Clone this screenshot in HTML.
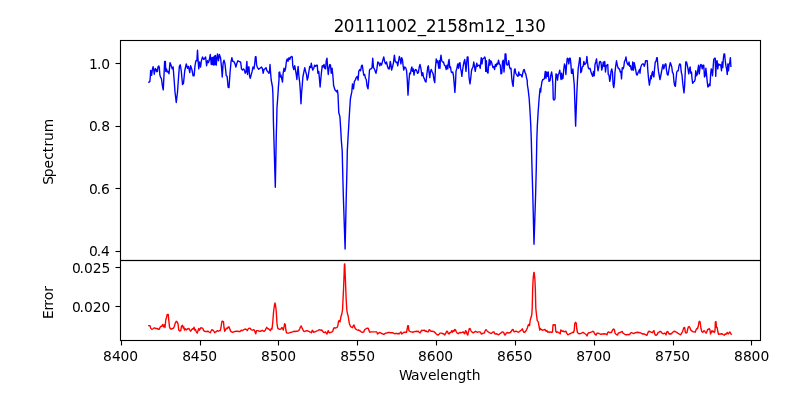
<!DOCTYPE html>
<html lang="en"><head><meta charset="utf-8"><title>20111002_2158m12_130</title>
<style>html,body{margin:0;padding:0;background:#ffffff;}body{width:800px;height:400px;overflow:hidden;position:relative;}</style>
</head><body>
<svg width="800" height="400" viewBox="0 0 800 400" style="display:block;position:absolute;left:0;top:0">
<rect x="0" y="0" width="800" height="400" fill="#ffffff"/>
<defs><clipPath id="c1"><rect x="120" y="40" width="640" height="220"/></clipPath><clipPath id="c2"><rect x="120" y="260" width="640" height="80"/></clipPath></defs>
<g clip-path="url(#c1)"><path d="M148.90 82.20 L149.80 81.70 L150.30 77.00 L150.60 70.50 L151.20 71.00 L151.60 75.30 L152.40 69.50 L153.10 66.60 L153.70 69.50 L154.25 74.20 L154.90 70.00 L155.40 68.50 L155.90 69.50 L156.50 71.50 L157.00 69.50 L157.40 71.50 L158.00 67.00 L158.75 65.90 L159.30 67.50 L159.88 75.00 L160.75 77.75 L161.38 78.25 L162.50 86.50 L163.25 89.88 L164.00 75.00 L164.62 61.38 L165.38 61.38 L165.75 71.38 L166.50 68.88 L167.25 72.00 L168.12 71.38 L169.00 73.88 L170.00 62.62 L171.25 65.75 L172.25 68.88 L173.12 67.00 L174.00 78.25 L175.00 92.00 L176.25 102.50 L177.50 92.00 L178.75 74.50 L179.38 66.38 L180.25 64.75 L181.25 70.75 L182.50 84.50 L183.50 83.25 L184.75 70.75 L186.25 63.88 L187.50 68.25 L188.50 66.38 L189.75 72.62 L190.62 65.75 L191.88 69.50 L193.12 75.75 L194.12 75.75 L195.00 65.75 L195.88 60.75 L196.88 60.75 L197.50 50.12 L198.12 60.75 L198.75 68.88 L199.50 62.00 L200.62 67.00 L201.25 61.38 L202.50 57.00 L203.75 59.50 L204.75 58.25 L205.62 57.00 L206.62 65.75 L207.50 60.75 L208.50 62.62 L209.38 59.50 L210.25 54.50 L211.25 64.50 L211.88 57.75 L212.50 64.50 L213.12 57.12 L213.75 65.12 L214.38 56.25 L215.00 64.50 L215.38 55.38 L215.88 60.75 L216.25 65.12 L216.88 58.25 L217.50 53.88 L218.50 60.75 L219.38 54.50 L220.62 58.25 L221.50 67.00 L222.25 77.00 L223.12 63.25 L224.00 60.12 L225.00 63.88 L226.25 75.75 L227.12 76.38 L228.12 87.25 L229.00 87.62 L230.00 73.25 L231.00 62.00 L231.88 57.62 L232.75 61.38 L233.75 61.38 L235.00 63.88 L235.88 67.00 L236.88 63.25 L237.88 60.75 L239.00 61.38 L240.00 62.00 L240.62 62.00 L241.50 68.88 L242.50 70.12 L243.50 68.88 L244.38 70.12 L245.25 73.25 L246.00 72.00 L246.88 61.38 L247.50 74.50 L248.38 67.00 L249.00 67.00 L249.50 75.75 L250.25 78.25 L251.25 74.50 L252.12 71.38 L253.00 67.00 L254.00 68.88 L254.75 63.25 L255.38 56.75 L256.00 56.75 L256.62 65.12 L257.50 67.62 L258.75 69.25 L260.00 68.25 L261.50 67.00 L262.50 68.88 L263.12 73.25 L264.00 69.50 L265.00 68.88 L266.00 67.62 L266.88 70.75 L267.75 71.38 L268.75 73.25 L269.50 72.62 L270.00 64.50 L270.62 73.25 L271.20 80.00 L272.50 87.00 L272.90 93.75 L273.20 107.50 L273.40 121.00 L273.80 135.00 L275.30 187.30 L276.30 135.00 L276.70 121.00 L277.00 107.50 L278.00 93.75 L278.40 87.00 L279.00 80.00 L279.00 72.62 L279.75 72.00 L280.25 77.00 L281.00 75.12 L281.75 78.88 L282.50 82.00 L283.12 73.25 L284.00 68.25 L284.75 71.38 L285.50 68.88 L286.50 60.75 L287.25 58.88 L288.00 61.38 L289.00 57.62 L289.75 59.50 L290.75 57.00 L291.75 56.38 L292.25 57.00 L292.75 65.75 L293.75 69.50 L294.75 65.75 L295.50 70.12 L296.25 74.50 L296.88 79.50 L297.50 72.00 L298.12 66.38 L298.75 74.50 L299.75 83.25 L300.38 92.00 L301.00 103.75 L301.62 92.00 L302.12 87.00 L302.88 77.00 L303.75 72.62 L304.75 67.62 L305.62 71.38 L306.50 74.50 L307.25 80.12 L308.12 77.00 L309.00 70.75 L309.75 66.38 L310.62 67.62 L311.25 63.25 L312.00 67.00 L312.75 70.12 L313.75 68.25 L314.62 65.12 L315.62 66.38 L316.50 65.12 L317.25 65.12 L317.88 73.25 L318.75 71.38 L319.38 78.25 L320.12 87.00 L320.75 79.50 L321.50 72.00 L322.25 65.75 L323.12 67.00 L324.00 64.50 L324.75 68.25 L325.62 68.88 L326.25 60.75 L327.00 58.25 L327.50 65.75 L328.25 74.50 L329.00 68.25 L329.75 64.50 L330.50 65.12 L331.25 73.25 L332.12 68.25 L332.75 74.50 L333.50 83.25 L333.50 85.00 L334.90 89.80 L336.70 91.90 L337.40 90.20 L338.00 94.60 L338.75 112.50 L339.90 116.60 L340.80 130.40 L341.30 140.00 L342.20 151.00 L342.60 167.50 L343.30 195.00 L345.10 249.00 L346.30 195.00 L347.00 167.50 L347.30 151.00 L347.90 140.00 L348.70 126.25 L349.50 112.50 L350.40 98.75 L351.80 91.90 L352.50 83.88 L353.50 88.88 L354.38 81.38 L355.25 80.12 L356.25 77.62 L357.25 76.38 L358.12 80.12 L358.75 71.38 L359.75 69.50 L360.62 70.75 L361.50 65.75 L362.25 65.12 L363.00 70.12 L363.75 75.12 L364.62 74.50 L365.50 78.25 L366.25 79.50 L367.12 86.38 L368.00 88.88 L368.75 80.75 L369.50 70.12 L370.25 68.88 L371.25 68.88 L372.00 67.62 L372.75 58.25 L373.50 67.62 L374.38 68.88 L375.25 71.38 L376.00 73.25 L376.88 68.88 L377.75 62.00 L378.75 62.62 L379.75 65.75 L380.62 63.25 L381.50 65.12 L382.50 61.38 L383.75 57.00 L384.75 62.00 L385.62 63.88 L386.50 62.00 L387.50 66.38 L388.50 68.88 L389.38 68.88 L390.25 61.38 L391.00 65.12 L391.62 70.12 L392.50 67.00 L393.50 62.62 L394.38 55.12 L395.25 61.38 L396.25 62.62 L397.00 62.00 L397.75 65.75 L398.50 61.38 L399.38 56.38 L400.25 59.50 L400.88 63.88 L401.75 57.62 L402.50 60.12 L403.12 65.75 L403.75 70.12 L404.62 67.00 L405.62 67.62 L406.50 70.12 L407.25 79.50 L408.00 95.12 L408.75 83.25 L409.62 73.25 L410.38 73.88 L411.25 68.88 L411.88 67.00 L412.50 71.38 L413.25 68.88 L414.00 75.12 L414.75 70.75 L415.62 69.50 L416.50 70.12 L417.50 73.25 L418.38 72.62 L419.25 67.00 L420.00 64.50 L421.00 68.88 L421.88 75.75 L422.75 72.62 L423.50 77.00 L424.38 78.88 L425.25 81.38 L426.00 82.00 L426.88 74.50 L427.75 67.00 L428.38 65.75 L429.00 72.00 L429.75 77.62 L430.50 71.38 L431.25 69.50 L432.25 72.00 L433.12 73.88 L434.00 80.12 L434.75 82.62 L435.50 67.00 L436.25 58.88 L437.00 62.62 L437.75 60.75 L438.75 68.25 L439.50 60.75 L440.00 68.25 L440.38 59.50 L441.00 55.12 L441.75 60.75 L442.50 62.00 L443.50 62.00 L444.38 65.12 L445.25 65.75 L446.25 69.50 L447.00 65.12 L447.75 68.88 L448.50 62.00 L449.12 59.50 L449.75 67.62 L450.50 67.00 L451.25 72.00 L452.00 72.62 L452.75 72.00 L453.50 75.75 L454.25 84.50 L454.88 92.38 L455.50 83.25 L456.00 71.38 L456.88 68.25 L457.75 63.88 L458.50 68.25 L459.25 63.25 L460.00 62.62 L460.62 68.88 L461.25 71.38 L461.88 76.38 L462.50 70.75 L463.25 65.75 L464.00 62.00 L464.75 59.50 L465.38 64.50 L466.00 71.38 L466.62 63.25 L467.25 57.00 L468.00 57.00 L468.50 67.00 L469.12 78.25 L470.00 83.88 L470.75 78.25 L471.50 70.75 L472.25 68.25 L473.00 67.00 L473.75 62.00 L474.50 66.38 L475.25 71.38 L476.00 67.00 L476.75 63.25 L477.50 66.38 L478.50 65.12 L479.38 65.12 L480.25 68.25 L480.75 62.62 L481.25 57.62 L482.00 63.88 L482.75 58.88 L483.75 58.25 L484.75 57.00 L485.25 58.25 L485.75 71.38 L486.38 60.75 L487.00 71.38 L488.00 73.25 L488.50 67.00 L489.25 59.50 L490.00 65.12 L490.75 60.75 L491.50 62.00 L492.25 65.12 L493.00 67.62 L493.75 66.38 L494.62 69.50 L495.38 64.50 L496.25 66.38 L497.00 63.25 L497.75 64.50 L498.50 60.12 L499.38 63.88 L500.25 65.12 L501.00 73.88 L501.75 73.25 L502.50 62.00 L503.25 60.12 L504.00 72.00 L504.62 64.50 L505.12 53.88 L505.88 53.88 L506.50 63.88 L507.25 65.12 L508.00 64.50 L508.75 60.75 L509.50 67.00 L510.25 68.88 L511.00 68.25 L511.75 78.25 L512.50 83.88 L513.12 86.38 L513.75 77.00 L514.50 69.50 L515.00 68.88 L515.75 73.25 L516.50 74.50 L517.25 75.75 L518.00 76.38 L518.75 72.00 L519.50 75.12 L520.38 74.50 L521.25 75.12 L522.00 77.00 L522.75 73.25 L523.50 70.12 L524.25 69.50 L525.00 72.62 L525.75 73.88 L526.50 77.62 L527.25 80.75 L527.40 85.00 L528.10 89.10 L529.20 98.75 L530.10 112.50 L530.80 126.25 L531.30 140.00 L532.00 167.50 L532.80 195.00 L534.00 244.30 L535.60 195.00 L536.30 167.50 L536.80 140.00 L537.30 126.25 L538.10 112.50 L539.10 98.75 L539.75 91.90 L540.20 88.40 L540.70 92.00 L541.00 88.25 L541.88 82.00 L542.75 79.50 L543.75 79.50 L544.50 78.25 L545.25 71.38 L546.00 78.25 L546.75 72.00 L547.50 76.38 L548.25 72.00 L549.00 81.38 L550.00 80.75 L550.75 75.75 L551.62 72.00 L552.25 75.75 L552.88 84.50 L553.25 98.88 L554.00 100.12 L555.00 98.88 L555.50 83.25 L556.00 73.88 L556.75 74.50 L557.50 80.12 L558.25 74.50 L559.00 73.25 L559.75 70.12 L560.38 74.50 L561.00 79.50 L561.62 73.25 L562.25 78.88 L563.00 78.25 L563.75 69.50 L564.50 63.88 L565.25 66.38 L565.88 74.50 L566.50 65.75 L567.25 58.25 L568.00 58.88 L568.75 63.88 L569.50 58.25 L570.25 58.25 L570.88 63.88 L571.50 73.25 L572.25 73.25 L572.88 68.88 L573.50 77.00 L574.25 84.50 L574.50 92.00 L575.62 126.12 L576.88 92.00 L577.50 79.50 L578.25 68.25 L579.00 63.25 L579.75 57.62 L580.25 58.25 L580.75 72.62 L581.50 71.38 L582.25 67.00 L583.12 66.38 L583.88 61.38 L584.62 64.50 L585.38 63.88 L586.25 62.62 L586.88 56.38 L587.50 62.62 L588.25 67.62 L589.00 68.88 L590.00 68.25 L591.00 72.00 L591.88 74.50 L592.75 76.38 L593.50 71.38 L594.25 75.75 L595.00 64.50 L595.75 62.00 L596.50 58.88 L597.25 65.75 L598.00 70.75 L598.75 67.00 L599.50 62.00 L600.25 61.38 L601.00 62.62 L601.75 70.12 L602.50 67.00 L603.25 62.00 L604.00 66.38 L604.75 61.38 L605.50 72.00 L606.25 65.75 L607.00 65.12 L607.75 64.50 L608.25 74.50 L609.00 75.12 L609.75 81.38 L610.38 78.25 L611.00 71.38 L611.75 68.88 L612.50 72.62 L613.12 84.50 L613.75 87.62 L614.38 83.25 L615.00 72.00 L615.75 65.75 L616.50 60.75 L617.25 65.12 L618.00 67.62 L618.75 68.88 L619.50 68.88 L620.25 72.00 L620.88 71.38 L621.50 78.88 L622.25 67.62 L623.00 68.88 L623.75 67.00 L624.50 61.38 L625.25 60.12 L626.00 57.00 L626.75 62.00 L627.50 63.88 L628.25 65.12 L629.00 62.00 L629.75 66.38 L630.50 65.75 L631.25 69.50 L632.00 70.12 L632.75 62.00 L633.50 70.12 L634.25 62.62 L635.00 66.38 L635.75 70.12 L636.50 74.50 L637.25 75.12 L638.00 72.62 L638.75 71.38 L639.50 69.50 L640.00 73.25 L640.62 67.62 L641.50 65.12 L642.50 63.88 L643.50 63.88 L644.25 66.38 L645.00 63.88 L645.62 60.75 L646.50 60.75 L647.25 60.75 L647.75 69.50 L648.50 78.25 L649.38 85.12 L650.00 81.38 L650.75 75.75 L651.25 78.88 L652.00 73.25 L652.62 71.38 L653.25 75.75 L653.88 77.00 L654.50 69.50 L655.25 62.00 L656.00 61.38 L656.75 57.62 L657.25 57.62 L657.75 64.50 L658.50 71.38 L659.25 75.75 L660.00 79.50 L660.75 75.75 L661.50 72.00 L662.25 67.62 L663.00 64.50 L663.75 68.88 L664.50 66.38 L665.25 63.88 L665.88 63.88 L666.50 70.12 L667.25 74.50 L668.00 75.12 L668.75 70.75 L669.50 66.38 L670.25 62.62 L671.00 64.50 L671.75 67.00 L672.50 72.62 L673.25 73.25 L674.00 82.00 L674.75 85.75 L675.38 86.38 L676.00 79.50 L676.75 72.00 L677.50 70.75 L678.25 70.75 L679.00 65.75 L679.75 63.88 L680.50 64.50 L681.25 72.00 L682.00 75.12 L682.75 83.25 L683.50 89.50 L684.00 92.88 L684.62 85.75 L685.25 72.00 L685.75 62.00 L686.50 62.00 L687.25 65.12 L688.00 68.88 L688.75 73.88 L689.50 68.88 L690.12 67.00 L690.75 73.25 L691.50 72.00 L692.00 78.25 L692.62 83.25 L693.50 82.00 L694.38 81.38 L695.12 79.50 L695.75 70.75 L696.50 75.75 L697.25 74.50 L698.00 68.88 L698.62 65.12 L699.25 73.88 L700.00 67.62 L700.75 64.50 L701.50 65.12 L702.25 68.88 L703.00 65.12 L703.75 65.12 L704.50 77.00 L705.25 75.75 L705.88 68.25 L706.62 75.12 L707.25 82.00 L707.88 87.00 L708.50 86.38 L709.25 83.88 L710.00 85.75 L710.62 74.50 L711.25 68.88 L711.88 70.12 L712.50 75.75 L713.12 67.62 L713.75 59.50 L714.50 58.25 L715.25 58.25 L715.75 76.38 L716.38 61.38 L717.12 60.75 L717.75 68.88 L718.50 63.88 L719.25 65.12 L720.00 64.50 L720.75 65.12 L721.50 70.75 L722.12 62.00 L722.75 67.62 L723.38 58.25 L724.00 53.88 L724.62 53.88 L725.25 60.75 L726.00 66.38 L726.62 68.88 L727.25 74.50 L727.88 63.88 L728.50 70.75 L729.12 64.50 L729.75 62.62 L730.38 57.62 L730.88 66.38" fill="none" stroke="#0000ff" stroke-width="1.389" stroke-linejoin="round" stroke-linecap="square"/></g>
<g clip-path="url(#c2)"><path d="M148.75 325.62 L150.00 325.62 L150.62 328.12 L151.88 329.38 L153.12 328.75 L154.38 327.75 L155.62 328.50 L156.88 328.50 L158.12 329.00 L159.12 329.38 L160.00 327.50 L161.00 326.25 L161.88 326.25 L162.75 324.38 L163.50 326.88 L164.25 325.00 L165.00 327.50 L165.75 320.00 L166.50 317.50 L167.25 314.38 L168.25 314.38 L168.75 320.00 L169.50 326.88 L170.25 328.75 L171.25 329.00 L172.50 328.50 L173.50 328.12 L174.38 326.25 L175.25 323.12 L176.25 321.25 L177.12 321.88 L178.00 323.75 L178.75 330.00 L179.75 331.00 L180.75 330.62 L181.50 326.25 L182.50 325.25 L183.25 328.12 L183.75 326.88 L184.50 330.00 L185.50 328.75 L186.25 330.00 L187.25 329.00 L188.12 328.75 L189.00 328.50 L189.75 330.00 L190.50 331.25 L191.50 329.75 L192.50 328.75 L193.25 329.00 L194.00 327.25 L194.75 330.00 L195.50 329.38 L196.25 331.88 L197.25 333.12 L198.00 330.62 L198.75 328.50 L199.50 330.25 L200.25 328.75 L201.00 327.75 L201.88 328.12 L202.75 328.12 L203.50 330.25 L204.38 331.25 L205.62 331.50 L206.88 331.50 L208.12 331.25 L209.38 332.25 L210.25 332.75 L211.00 331.25 L211.75 329.75 L212.75 330.00 L213.75 331.00 L214.75 332.75 L215.62 331.88 L216.50 331.50 L217.50 330.62 L218.50 331.25 L219.50 330.62 L220.25 330.62 L221.00 327.50 L221.88 321.50 L222.75 321.25 L223.50 321.88 L224.00 327.50 L224.75 331.25 L225.62 329.75 L226.50 328.12 L227.50 328.50 L228.25 326.88 L229.00 326.88 L229.75 328.75 L230.50 331.00 L231.50 331.88 L232.50 332.25 L233.75 331.88 L235.00 331.50 L236.25 331.25 L237.50 331.25 L238.75 331.50 L240.00 331.50 L241.25 330.25 L242.50 330.62 L243.75 329.75 L245.00 329.00 L246.25 329.38 L247.25 330.62 L248.25 328.75 L249.38 328.12 L250.25 328.50 L251.25 329.75 L252.25 330.25 L253.25 329.75 L254.25 330.00 L255.00 331.88 L255.75 333.75 L256.50 330.62 L257.50 330.62 L258.75 331.00 L260.00 331.25 L261.25 331.00 L262.25 330.25 L263.25 331.00 L264.25 331.25 L265.25 330.25 L266.00 328.50 L266.75 327.25 L267.50 328.50 L268.50 328.75 L269.50 329.75 L270.50 330.62 L271.25 328.50 L272.00 329.00 L272.75 322.50 L273.50 312.50 L274.40 305.50 L275.00 303.00 L275.50 305.00 L276.25 311.25 L277.00 323.75 L277.75 328.12 L278.75 329.00 L280.00 329.38 L281.00 329.00 L281.75 327.50 L282.50 328.12 L283.25 330.00 L284.00 326.88 L284.62 323.75 L285.25 324.38 L285.88 330.00 L286.50 332.75 L287.50 333.12 L288.75 333.12 L290.00 332.50 L291.25 332.25 L292.50 331.88 L293.75 331.25 L295.00 331.50 L296.25 331.25 L297.50 331.25 L298.75 330.62 L299.75 328.75 L300.50 326.88 L301.25 326.00 L302.00 327.75 L302.75 329.38 L303.75 331.25 L304.75 331.50 L305.75 331.00 L306.75 330.62 L307.75 331.00 L308.75 331.25 L309.75 331.88 L310.75 332.25 L311.50 332.75 L312.25 330.25 L313.00 331.25 L313.75 332.25 L314.75 331.88 L315.75 331.50 L316.75 331.00 L317.75 330.62 L318.75 330.00 L319.75 329.75 L320.75 330.25 L321.75 330.00 L322.50 331.00 L323.50 332.25 L324.50 332.50 L325.50 331.88 L326.25 333.12 L327.00 334.00 L327.75 331.88 L328.25 330.62 L329.00 332.50 L330.00 332.75 L331.00 332.25 L332.00 331.88 L332.75 331.25 L333.50 328.75 L334.25 327.75 L335.25 328.12 L336.25 327.75 L337.25 327.25 L338.00 325.00 L338.50 321.25 L339.25 320.62 L340.00 321.90 L341.00 316.50 L341.80 314.00 L342.50 310.00 L343.00 300.00 L343.50 290.00 L344.00 277.00 L344.45 263.90 L344.75 263.90 L345.30 277.00 L345.80 290.00 L346.20 300.00 L346.80 310.00 L347.50 314.00 L348.20 316.00 L348.80 320.50 L349.50 324.00 L350.50 326.25 L350.50 326.25 L351.50 327.25 L352.50 327.75 L353.25 325.62 L354.00 325.00 L354.75 327.50 L355.75 329.00 L356.75 329.75 L357.75 330.25 L358.75 330.00 L359.75 330.62 L360.75 331.50 L361.75 332.25 L362.75 332.25 L363.75 331.88 L364.50 330.00 L365.50 329.00 L366.50 328.50 L367.50 328.12 L368.25 328.12 L369.00 330.62 L369.75 332.25 L370.75 331.88 L372.00 331.88 L373.25 331.88 L374.50 331.88 L375.75 331.88 L376.75 331.88 L377.50 334.00 L378.50 333.12 L379.50 332.50 L380.50 332.75 L381.50 333.50 L382.50 333.75 L383.50 334.38 L384.50 334.00 L385.50 333.12 L386.50 333.12 L387.50 332.75 L388.50 332.50 L389.50 332.50 L390.50 332.75 L391.50 332.75 L392.50 332.75 L393.50 333.12 L394.50 333.75 L395.50 333.50 L396.50 333.50 L397.50 333.75 L398.50 333.50 L399.50 333.75 L400.25 332.50 L401.00 331.88 L401.75 334.00 L402.50 333.50 L403.50 332.50 L404.50 332.25 L405.50 332.25 L406.50 332.25 L407.25 328.75 L407.75 325.62 L408.38 325.62 L408.88 330.62 L409.75 331.25 L410.75 331.88 L411.75 331.88 L412.75 332.25 L413.75 331.88 L414.75 331.50 L415.75 331.50 L416.75 331.25 L417.75 331.50 L418.50 331.25 L419.25 332.50 L420.25 332.75 L421.00 331.25 L421.75 330.25 L422.75 330.62 L423.50 330.25 L424.50 330.25 L425.25 331.25 L426.25 331.00 L427.25 331.88 L428.25 331.88 L429.00 330.00 L429.75 329.75 L430.50 331.00 L431.25 331.25 L432.25 331.25 L433.25 331.50 L434.25 331.88 L435.25 332.75 L436.25 334.00 L437.25 334.75 L438.25 335.00 L439.25 334.00 L440.00 333.12 L441.25 333.12 L442.50 333.50 L443.75 334.00 L444.75 335.00 L445.75 333.12 L446.75 331.25 L447.50 331.50 L448.25 333.50 L449.00 334.00 L450.00 332.50 L451.00 332.25 L451.75 330.62 L452.50 332.25 L453.25 330.62 L454.00 331.25 L454.75 329.38 L455.50 329.75 L456.25 331.88 L457.25 333.12 L458.25 333.75 L459.25 332.75 L460.25 332.50 L461.25 332.75 L462.25 332.25 L463.25 331.88 L464.00 333.12 L464.75 333.75 L465.50 330.62 L466.25 331.25 L467.00 334.00 L467.75 335.00 L468.50 331.88 L469.25 328.75 L470.00 328.50 L470.75 330.25 L471.50 331.50 L472.50 332.50 L473.50 332.75 L474.50 331.88 L475.50 331.25 L476.50 331.88 L477.50 332.25 L478.50 331.88 L479.50 331.88 L480.50 332.25 L481.25 334.00 L482.25 333.75 L483.25 333.12 L484.25 333.12 L485.00 331.25 L485.75 329.75 L486.50 330.00 L487.25 331.25 L488.25 331.88 L489.25 332.50 L490.25 333.12 L491.25 333.50 L492.25 332.50 L493.25 331.88 L494.00 331.88 L494.75 333.75 L495.75 334.00 L496.75 333.75 L497.75 334.38 L498.75 334.75 L499.75 333.75 L500.75 333.12 L501.75 332.25 L502.75 331.88 L503.75 332.50 L504.50 334.75 L505.25 335.00 L506.25 333.12 L507.25 332.50 L508.25 333.12 L509.25 332.75 L510.25 332.50 L511.25 331.25 L512.25 329.75 L513.00 329.38 L513.75 331.25 L514.50 331.88 L515.50 331.25 L516.50 331.25 L517.50 331.88 L518.50 332.25 L519.50 331.50 L520.50 330.62 L521.50 330.00 L522.25 328.75 L523.00 330.62 L523.75 332.25 L524.75 332.25 L525.75 331.25 L526.75 329.38 L527.50 327.50 L528.25 325.00 L529.00 324.38 L529.50 325.62 L530.25 320.00 L531.00 317.50 L531.75 315.00 L532.20 308.00 L532.70 288.00 L533.20 278.00 L533.85 272.50 L534.15 272.50 L534.80 278.00 L535.30 288.00 L535.80 308.00 L536.50 315.00 L537.25 320.62 L538.25 321.88 L539.00 326.25 L539.75 330.00 L540.00 328.12 L541.00 329.38 L542.00 330.00 L543.00 330.25 L544.00 329.75 L545.00 329.38 L546.00 331.25 L547.00 330.62 L547.75 332.25 L548.75 331.88 L549.75 332.25 L550.75 331.88 L551.75 332.50 L552.50 331.88 L553.00 325.00 L553.75 324.75 L554.50 325.00 L555.25 324.75 L555.75 331.25 L556.50 332.25 L557.50 331.88 L558.50 332.50 L559.50 333.12 L560.25 333.75 L560.75 330.00 L561.50 330.62 L562.25 331.25 L563.25 331.00 L564.25 331.88 L565.25 331.50 L566.00 331.25 L566.75 333.12 L567.75 334.75 L568.75 334.38 L569.75 333.75 L570.75 333.50 L571.75 332.75 L572.75 332.25 L573.50 332.50 L574.25 330.00 L574.75 323.75 L575.50 322.25 L576.25 323.12 L576.75 328.75 L577.50 332.50 L578.50 333.50 L579.50 333.75 L580.50 333.50 L581.50 333.12 L582.50 332.50 L583.50 332.50 L584.50 333.50 L585.50 334.00 L586.25 334.75 L587.00 336.00 L587.75 333.75 L588.75 332.75 L589.75 332.75 L590.75 332.25 L591.75 331.88 L592.75 331.25 L593.75 331.88 L594.50 333.50 L595.50 334.75 L596.25 335.00 L597.00 333.12 L598.00 333.12 L599.00 333.50 L600.00 334.00 L601.00 334.38 L602.00 334.00 L603.00 334.00 L604.00 333.75 L605.00 334.00 L606.00 334.00 L607.00 334.75 L607.75 332.50 L608.50 331.88 L609.50 332.50 L610.50 332.50 L611.50 332.50 L612.25 330.62 L613.00 329.38 L613.75 329.00 L614.50 330.00 L615.00 333.12 L615.75 334.00 L616.75 334.75 L617.50 335.00 L618.25 333.12 L619.25 332.75 L620.25 332.50 L621.25 331.88 L622.25 331.50 L623.00 333.12 L624.00 333.75 L625.00 334.38 L626.00 334.75 L627.00 334.75 L628.00 334.38 L629.00 334.75 L629.75 334.38 L630.50 333.12 L631.50 332.50 L632.50 333.12 L633.50 333.50 L634.50 333.12 L635.50 332.75 L636.50 332.50 L637.50 332.25 L638.50 332.50 L639.50 332.75 L640.00 332.50 L641.00 333.12 L642.00 333.75 L643.00 334.00 L644.00 333.75 L645.00 334.38 L646.00 335.00 L647.00 335.25 L647.75 333.12 L648.50 331.50 L649.50 331.25 L650.50 331.88 L651.50 332.25 L652.50 332.75 L653.25 331.25 L654.00 330.62 L654.50 333.12 L655.25 335.00 L656.25 335.25 L657.25 334.38 L658.00 332.50 L659.00 332.25 L659.75 331.50 L660.75 331.50 L661.50 332.50 L662.50 333.50 L663.50 333.75 L664.50 333.12 L665.25 333.75 L666.00 335.00 L666.75 331.88 L667.50 331.50 L668.25 332.50 L669.00 334.00 L670.00 333.75 L671.00 334.00 L672.00 333.12 L672.75 332.25 L673.75 331.50 L674.75 331.25 L675.75 331.88 L676.75 332.25 L677.75 333.12 L678.75 333.75 L679.75 334.38 L680.75 334.75 L681.50 333.12 L682.50 331.88 L683.25 329.38 L684.00 327.50 L684.75 327.75 L685.25 331.88 L686.00 333.12 L687.00 332.50 L687.75 328.75 L688.50 326.88 L689.25 326.50 L690.00 327.75 L690.75 330.00 L691.50 330.62 L692.50 331.50 L693.50 331.88 L694.50 331.88 L695.25 332.25 L696.00 330.00 L696.75 328.50 L697.50 328.75 L698.25 326.25 L699.00 321.88 L699.75 321.25 L700.25 323.12 L701.00 328.75 L701.75 331.50 L702.50 332.25 L703.25 331.88 L704.00 330.62 L704.75 331.25 L705.50 332.50 L706.25 333.12 L707.00 331.25 L707.75 329.38 L708.50 329.38 L709.25 328.50 L710.00 330.00 L710.50 334.00 L711.25 332.50 L712.00 330.62 L712.75 331.88 L713.50 331.25 L714.25 332.50 L715.00 331.25 L715.38 321.88 L716.00 321.50 L716.50 327.50 L717.25 327.75 L717.75 331.25 L718.50 334.38 L719.50 334.00 L720.50 334.00 L721.50 333.75 L722.50 334.00 L723.50 334.75 L724.25 335.25 L725.00 334.00 L726.00 334.38 L726.75 333.12 L727.50 332.50 L728.25 334.00 L729.00 333.12 L729.75 331.88 L730.50 333.12 L731.25 334.38" fill="none" stroke="#ff0000" stroke-width="1.389" stroke-linejoin="round" stroke-linecap="square"/></g>
<g fill="none" stroke="#000000" stroke-width="1.111" stroke-linecap="butt" stroke-linejoin="miter">
<path d="M121.5 340.5V345.5"/>
<path d="M200.5 340.5V345.5"/>
<path d="M278.5 340.5V345.5"/>
<path d="M357.5 340.5V345.5"/>
<path d="M436.5 340.5V345.5"/>
<path d="M515.5 340.5V345.5"/>
<path d="M594.5 340.5V345.5"/>
<path d="M673.5 340.5V345.5"/>
<path d="M751.5 340.5V345.5"/>
<path d="M120.5 63.5H115.5"/>
<path d="M120.5 126.5H115.5"/>
<path d="M120.5 188.5H115.5"/>
<path d="M120.5 251.5H115.5"/>
<path d="M120.5 267.5H115.5"/>
<path d="M120.5 306.5H115.5"/>
<rect x="120.5" y="40.5" width="640" height="220"/>
<rect x="120.5" y="260.5" width="640" height="80"/>
</g>
<g font-family="'DejaVu Sans', 'Liberation Sans', sans-serif" fill="#000000">
<text x="103.12 111.98 120.53 129.34" y="361.00" font-size="13.889">8400</text>
<text x="182.20 190.81 199.66 208.18" y="361.00" font-size="13.889">8450</text>
<text x="261.04 269.91 278.44 287.27" y="361.00" font-size="13.889">8500</text>
<text x="340.14 348.74 357.59 366.35" y="361.00" font-size="13.889">8550</text>
<text x="417.97 426.84 435.73 444.31" y="361.00" font-size="13.889">8600</text>
<text x="497.07 505.91 514.62 523.41" y="361.00" font-size="13.889">8650</text>
<text x="576.13 584.80 593.54 602.35" y="361.00" font-size="13.889">8700</text>
<text x="654.96 663.89 672.67 681.19" y="361.00" font-size="13.889">8750</text>
<text x="734.05 743.03 751.57 760.41" y="361.00" font-size="13.889">8800</text>
<text x="89.01 96.96 101.13" y="69.00" font-size="13.889">1.0</text>
<text x="88.91 96.87 101.17" y="131.00" font-size="13.889">0.8</text>
<text x="88.91 96.87 101.07" y="194.00" font-size="13.889">0.6</text>
<text x="88.91 96.87 101.08" y="256.00" font-size="13.889">0.4</text>
<text x="71.98 79.54 84.11 92.70 101.58" y="273.00" font-size="13.889">0.025</text>
<text x="71.98 79.54 84.11 92.70 101.52" y="312.00" font-size="13.889">0.020</text>
<text x="398.98 411.01 419.40 427.92 436.13 440.19 448.66 457.51 466.18 471.87" y="380.00" font-size="13.889">Wavelength</text>
<text transform="translate(0 32.00) scale(1 1.0650)" x="333.81 343.63 354.38 364.84 375.44 385.95 396.54 406.87 417.83 425.98 436.57 447.34 457.54 468.22 484.52 495.17 505.45 514.20 524.55 535.36" y="0" font-size="16.667">20111002_2158m12_130</text>
<text transform="translate(53.30 150.00) rotate(-90)" x="-34.81 -27.22 -18.45 -9.71 -2.19 3.51 9.08 17.77" y="0.01" font-size="13.889">Spectrum</text>
<text transform="translate(53.30 300.00) rotate(-90)" x="-18.89 -10.62 -5.71 -0.25 8.26" y="0.01" font-size="13.889">Error</text>
</g>
</svg>
</body></html>
